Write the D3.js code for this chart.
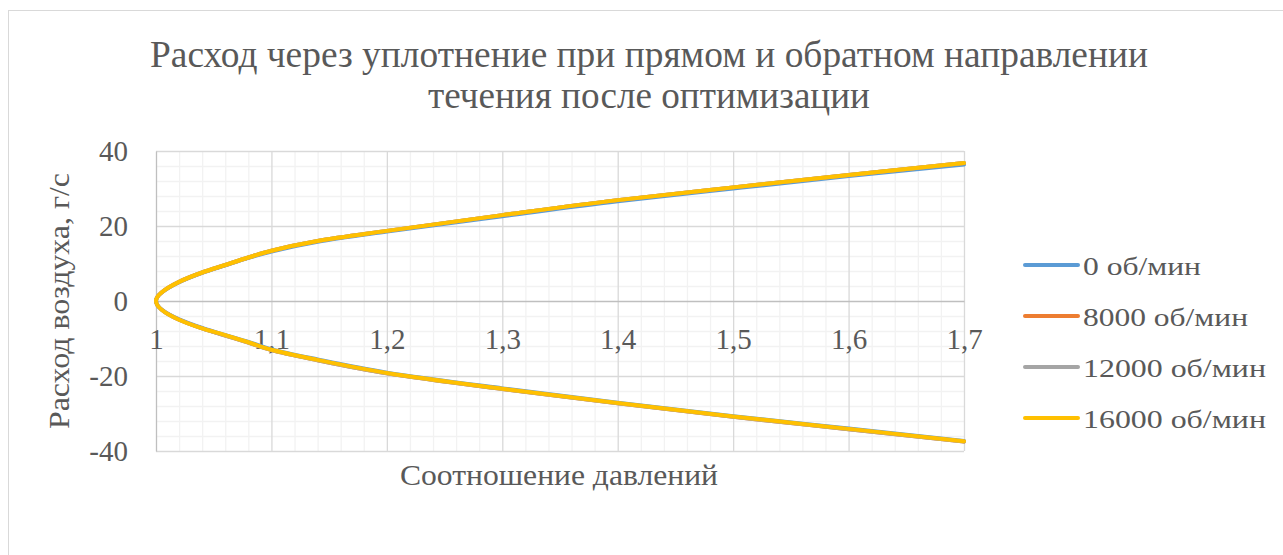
<!DOCTYPE html>
<html>
<head>
<meta charset="utf-8">
<script src="https://cdn.jsdelivr.net/npm/d3@7"></script>
<style>
  html, body { margin: 0; padding: 0; background: #fff; }
  svg { display: block; }
  text { font-family: "Liberation Serif", "Times New Roman", serif; fill: #595959; }
</style>
</head>
<body>
<svg id="chart" width="1283" height="555" font-family="Liberation Serif, Times New Roman, serif"></svg>
<script>
// Pressure ratio: reverse-flow branch (1.7 -> 1) followed by forward-flow branch (1 -> 1.7)
const pressureRatio = [1.7, 1.6, 1.5, 1.4, 1.3, 1.2, 1.14, 1.1, 1.08, 1.06, 1.04, 1.02, 1.0,
                       1.02, 1.04, 1.06, 1.08, 1.1, 1.14, 1.2, 1.3, 1.4, 1.5, 1.6, 1.7];

// Air flow through the seal, g/s, for each rotor speed
const flow0     = [-37.3, -34.0, -30.7, -27.1, -23.3, -19.1, -15.6, -12.9, -10.9, -9.1, -7.2, -4.9, 0,
                    5.0, 7.5, 9.5, 11.5, 13.2, 15.8, 18.5, 22.6, 26.6, 30.0, 33.3, 36.4];
const flow8000  = [-37.5, -34.2, -30.9, -27.3, -23.5, -19.3, -15.8, -13.1, -11.1, -9.2, -7.3, -5.0, 0,
                    5.1, 7.6, 9.6, 11.6, 13.4, 16.0, 18.7, 22.9, 26.9, 30.3, 33.6, 36.8];
const flow12000 = [-37.5, -34.2, -30.9, -27.3, -23.5, -19.3, -15.8, -13.1, -11.1, -9.2, -7.3, -5.0, 0,
                    5.1, 7.6, 9.6, 11.6, 13.4, 16.0, 18.7, 22.9, 26.9, 30.3, 33.6, 36.8];
const flow16000 = [-37.4, -34.1, -30.8, -27.2, -23.4, -19.2, -15.7, -13.0, -11.0, -9.1, -7.3, -5.0, 0,
                    5.1, 7.6, 9.6, 11.6, 13.4, 16.0, 18.7, 22.9, 26.9, 30.3, 33.6, 36.8];

const seriesNames  = ["0 об/мин", "8000 об/мин", "12000 об/мин", "16000 об/мин"];
const seriesColors = ["#5B9BD5", "#ED7D31", "#A5A5A5", "#FFC000"];
const seriesValues = [flow0, flow8000, flow12000, flow16000];

const xTicks = [1, 1.1, 1.2, 1.3, 1.4, 1.5, 1.6, 1.7];
const xTickLabels = ["1", "1,1", "1,2", "1,3", "1,4", "1,5", "1,6", "1,7"];
const yTicks = [-40, -20, 0, 20, 40];

const titleLines = ["Расход через уплотнение при прямом и обратном направлении",
                    "течения после оптимизации"];
const xTitle = "Соотношение давлений";
const yTitle = "Расход воздуха, г/с";

const svg = d3.select("#chart");

// chart frame
svg.append("rect")
  .attr("x", 8.5).attr("y", 10.5)
  .attr("width", 1300).attr("height", 600)
  .attr("fill", "#fff").attr("stroke", "#D9D9D9").attr("stroke-width", 1);

const plot = { left: 156, right: 964, top: 151, bottom: 451 };

const x = d3.scaleLinear().domain([1, 1.7]).range([plot.left, plot.right]);
const y = d3.scaleLinear().domain([-40, 40]).range([plot.bottom, plot.top]);

const g = svg.append("g");

// minor gridlines
const xMinor = d3.range(0, 36).map(i => 1 + i * 0.02).filter((v, i) => i % 5 !== 0);
const yMinor = d3.range(0, 21).map(i => -40 + i * 4).filter((v, i) => i % 5 !== 0);

g.append("g").attr("transform", `translate(0,${plot.bottom})`)
  .call(d3.axisBottom(x).tickValues(xMinor).tickSize(-(plot.bottom - plot.top)).tickFormat(""))
  .call(a => a.select(".domain").remove())
  .call(a => a.selectAll("line").attr("stroke", "#F2F2F2").attr("stroke-width", 1.3));
g.append("g").attr("transform", `translate(${plot.left},0)`)
  .call(d3.axisLeft(y).tickValues(yMinor).tickSize(-(plot.right - plot.left)).tickFormat(""))
  .call(a => a.select(".domain").remove())
  .call(a => a.selectAll("line").attr("stroke", "#F2F2F2").attr("stroke-width", 1.3));

// major gridlines
g.append("g").attr("transform", `translate(0,${plot.bottom})`)
  .call(d3.axisBottom(x).tickValues(xTicks.slice(1)).tickSize(-(plot.bottom - plot.top)).tickFormat(""))
  .call(a => a.select(".domain").remove())
  .call(a => a.selectAll("line").attr("stroke", "#D9D9D9").attr("stroke-width", 1.3));
g.append("g").attr("transform", `translate(${plot.left},0)`)
  .call(d3.axisLeft(y).tickValues(yTicks.filter(v => v !== 0)).tickSize(-(plot.right - plot.left)).tickFormat(""))
  .call(a => a.select(".domain").remove())
  .call(a => a.selectAll("line").attr("stroke", "#D9D9D9").attr("stroke-width", 1.3));

// value axis (left) with labels
g.append("g").attr("transform", `translate(${plot.left},0)`)
  .call(d3.axisLeft(y).tickValues(yTicks).tickSize(0).tickPadding(28).tickFormat(d => String(d)))
  .call(a => a.select(".domain").attr("stroke", "#BFBFBF").attr("stroke-width", 1.3))
  .call(a => a.selectAll("text").attr("font-size", 29).attr("fill", "#595959")
    .attr("font-family", "Liberation Serif, Times New Roman, serif"));

// category axis crossing at zero
g.append("g").attr("transform", `translate(0,${y(0)})`)
  .call(d3.axisBottom(x).tickValues(xTicks).tickSize(0).tickPadding(27).tickFormat((d, i) => xTickLabels[i]))
  .call(a => a.select(".domain").attr("stroke", "#BFBFBF").attr("stroke-width", 1.3))
  .call(a => a.selectAll("text").attr("font-size", 29).attr("fill", "#595959")
    .attr("font-family", "Liberation Serif, Times New Roman, serif"));

// series lines: flow rises monotonically along each series, so smooth along the flow axis
const line = d3.line()
  .x((d, i) => x(pressureRatio[i]))
  .y(d => y(d))
  .curve(d3.curveMonotoneY);

seriesValues.forEach((vals, k) => {
  g.append("path")
    .datum(vals)
    .attr("d", line)
    .attr("fill", "none")
    .attr("stroke", seriesColors[k])
    .attr("stroke-width", 4)
    .attr("stroke-linecap", "round")
    .attr("stroke-linejoin", "round");
});

// title
const titleWidths = [998, 442];
svg.append("g").selectAll("text").data(titleLines).join("text")
  .attr("x", 649).attr("y", (d, i) => 67 + i * 41)
  .attr("text-anchor", "middle").attr("font-size", 37)
  .attr("textLength", (d, i) => titleWidths[i]).attr("lengthAdjust", "spacingAndGlyphs")
  .text(d => d);

// axis titles
svg.append("text")
  .attr("x", 559).attr("y", 485).attr("text-anchor", "middle").attr("font-size", 30)
  .attr("textLength", 318).attr("lengthAdjust", "spacingAndGlyphs")
  .text(xTitle);

svg.append("text")
  .attr("transform", `translate(69,${y(0)}) rotate(-90)`)
  .attr("text-anchor", "middle").attr("font-size", 30)
  .attr("textLength", 256).attr("lengthAdjust", "spacingAndGlyphs")
  .text(yTitle);

// legend
const legendWidths = [118, 165, 183, 183];
const legend = svg.append("g");
seriesNames.forEach((name, k) => {
  const ly = 265 + k * 51;
  legend.append("line")
    .attr("x1", 1025).attr("x2", 1078).attr("y1", ly).attr("y2", ly)
    .attr("stroke", seriesColors[k]).attr("stroke-width", 4).attr("stroke-linecap", "round");
  legend.append("text")
    .attr("x", 1083).attr("y", ly + 10).attr("font-size", 26)
    .attr("textLength", legendWidths[k]).attr("lengthAdjust", "spacingAndGlyphs")
    .text(name);
});
</script>
</body>
</html>
